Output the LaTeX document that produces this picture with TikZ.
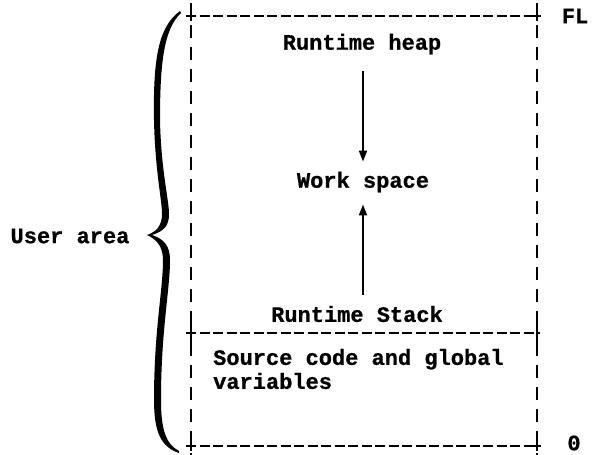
\documentclass[tikz,border=0pt]{standalone}
\usepackage{fontspec}
\setmainfont{Liberation Mono}[BoldFeatures={FakeBold=0.8}]
\usetikzlibrary{arrows.meta}
\begin{document}
\begin{tikzpicture}[x=1pt,y=-1pt,
  lbl/.style={inner sep=0pt,font=\fontsize{22}{24}\selectfont\bfseries},
  hdash/.style={line width=2.1pt,dash pattern=on 10pt off 3.5pt},
  vdash/.style={line width=2.1pt,dash pattern=on 13pt off 9pt},
  tick/.style={line width=2.1pt},
  arr/.style={line width=2pt,-{Triangle[width=8pt,length=11pt]}}]
\useasboundingbox (0,0) rectangle (597,455);
% corners
\coordinate (tl) at (191,16);
\coordinate (tr) at (537,16);
\coordinate (ml) at (191,333);
\coordinate (mr) at (537,333);
\coordinate (bl) at (191,446);
\coordinate (br) at (537,446);
% horizontal lines
\draw[hdash] ([xshift=-5pt]tl) -- (tr);
\draw[hdash] ([xshift=-5pt]ml) -- ([xshift=3pt]mr);
\draw[hdash] ([xshift=-5pt]bl) -- (br);
\draw[tick] ([xshift=-3pt]tr) -- ([xshift=4pt]tr);
\draw[tick] ([xshift=-3pt]br) -- ([xshift=4pt]br);
% plus ticks
\foreach \c in {tl,tr,ml,mr,bl,br}{\draw[tick] ([yshift=-5pt]\c) -- ([yshift=5pt]\c);}
% vertical dashed
\draw[vdash] ([yshift=13pt]tl) -- ([yshift=-10pt]ml);
\draw[vdash] ([yshift=13pt]tr) -- ([yshift=-10pt]mr);
\draw[vdash] ([yshift=12pt]ml) -- ([yshift=-10pt]bl);
\draw[vdash] ([yshift=12pt]mr) -- ([yshift=-10pt]br);
% texts
\node[lbl] (heap) at (362,44) {Runtime heap};
\node[lbl] (work) at (363,182) {Work space};
\node[lbl] (stack) at (357,314) {Runtime Stack};
\node[lbl,anchor=west,align=left] (src) at (213,369) {Source code and global\\variables};
\node[lbl] (fl) at (575,16) {FL};
\node[lbl] (zero) at (574,443) {0};
\node[lbl] (user) at (70,236) {User area};
% arrows
\draw[arr,shorten <=17pt,shorten >=10pt] (heap.south -| work.north) -- (work.north);
\draw[arr,shorten <=11pt,shorten >=12pt] (stack.north -| work.south) -- (work.south);
% brace
\fill (180,11) .. controls (158,27) and (153,60) .. (154,120)
  .. controls (155,170) and (162,200) .. (162,214)
  .. controls (162,226) and (156,232) .. (147,235)
  .. controls (156,239) and (163,246) .. (163,260)
  .. controls (163,290) and (154,330) .. (154,400)
  .. controls (154,432) and (161,447) .. (179,453)
  -- (179,451) .. controls (166,444) and (161,430) .. (161,400)
  .. controls (161,330) and (170,290) .. (170,260)
  .. controls (170,246) and (164,239) .. (152,235)
  .. controls (164,231) and (169,226) .. (169,214)
  .. controls (169,200) and (161,170) .. (160,120)
  .. controls (160,62) and (164,29) .. (181,13) -- cycle;
\end{tikzpicture}
\end{document}
